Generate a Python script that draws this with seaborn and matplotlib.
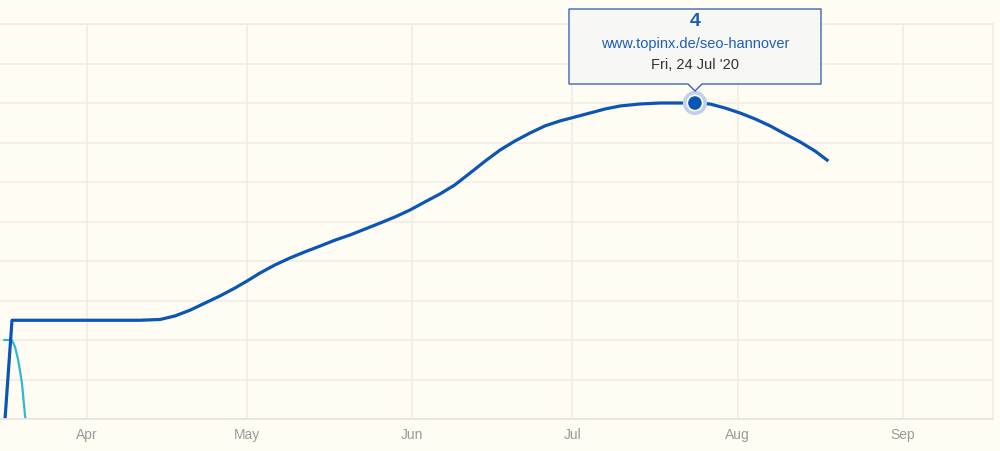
import matplotlib
matplotlib.use("Agg")
import matplotlib.pyplot as plt
import seaborn as sns
import pandas as pd
from matplotlib.patches import Polygon

# ---------------- data ----------------
BASE_DATE = "2020-04-01"
# days relative to BASE_DATE, ranking position (lower = better)
main_days = [-16.0, -13.96, 10.0, 13.8, 16.6, 19.4, 22.2, 25.0, 27.8, 30.1, 32.5,
             35.3, 38.1, 40.9, 43.8, 46.6, 49.4, 52.2, 55.0, 57.8, 60.6, 63.4,
             66.2, 69.0, 71.9, 74.7, 77.5, 80.3, 83.1, 85.9, 88.7, 91.5, 94.3,
             97.2, 100.0, 103.7, 107.5, 114.0, 116.8, 119.6, 122.5, 125.3, 128.1,
             130.9, 133.7, 136.5, 139.0]
main_rank = [22.8, 15.0, 15.0, 14.96, 14.78, 14.49, 14.13, 13.77, 13.37, 13.01, 12.61,
             12.20, 11.85, 11.54, 11.24, 10.94, 10.68, 10.38, 10.08, 9.77, 9.42, 9.01,
             8.61, 8.15, 7.54, 6.94, 6.38, 5.92, 5.52, 5.16, 4.91, 4.71, 4.51,
             4.30, 4.15, 4.05, 4.0, 4.0, 4.05, 4.25, 4.51, 4.81, 5.16,
             5.57, 5.97, 6.43, 6.94]
cyan_days = [-15.6, -14.0, -13.4, -12.8, -12.1, -11.5, -11.1]
cyan_rank = [16.0, 16.0, 16.34, 17.01, 18.18, 19.88, 20.9]

month_ticks = ["2020-04-01", "2020-05-01", "2020-06-01", "2020-07-01", "2020-08-01", "2020-09-01"]
month_labels = ["Apr", "May", "Jun", "Jul", "Aug", "Sep"]
rank_ticks = list(range(0, 21, 2))

tip_index = 37
tip_value = "4"
tip_url = "www.topinx.de/seo-hannover"
tip_date = "Fri, 24 Jul '20"

# ---------------- style ----------------
BG = "#fffcf3"
GRID = "#f0ece4"
DARK = "#0b55b4"
CYAN = "#2bbad0"

sns.set_theme(style="white")
plt.rcParams["font.family"] = ["Liberation Sans", "DejaVu Sans"]

base = pd.Timestamp(BASE_DATE)
df_main = pd.DataFrame({"date": base + pd.to_timedelta(main_days, unit="D"), "rank": main_rank})
df_cyan = pd.DataFrame({"date": base + pd.to_timedelta(cyan_days, unit="D"), "rank": cyan_rank})

W, H = 1000, 451
fig = plt.figure(figsize=(W / 100, H / 100), dpi=100, facecolor=BG)
ax = fig.add_axes([0, (H - 419) / H, 993 / W, (419 - 24) / H])
ax.set_facecolor(BG)

sns.lineplot(data=df_cyan, x="date", y="rank", color=CYAN, lw=1.6, ax=ax,
             estimator=None, sort=False)
sns.lineplot(data=df_main, x="date", y="rank", color=DARK, lw=2.3, ax=ax,
             estimator=None, sort=False)
for ln in ax.lines:
    ln.set_solid_joinstyle("round")
    ln.set_solid_capstyle("butt")

tip = df_main.iloc[[tip_index]]
sns.scatterplot(data=tip, x="date", y="rank", s=300, color="#bfd1ea", edgecolor="none",
                ax=ax, zorder=5, clip_on=False)
sns.scatterplot(data=tip, x="date", y="rank", s=150, color="white", edgecolor="none",
                ax=ax, zorder=6, clip_on=False)
sns.scatterplot(data=tip, x="date", y="rank", s=95, color=DARK, edgecolor="none",
                ax=ax, zorder=7, clip_on=False)

ax.set_ylim(20, 0)
ax.set_xlim(base - pd.Timedelta(days=16.21), base + pd.Timedelta(days=169.85))
ax.set_yticks(rank_ticks)
ax.set_yticklabels([])
ax.set_xticks(pd.to_datetime(month_ticks))
ax.set_xticklabels(month_labels)
ax.tick_params(axis="both", length=0)
ax.tick_params(axis="x", colors="#9a9a9a", labelsize=10, pad=6.5)
ax.set_xlabel("")
ax.set_ylabel("")
ax.grid(True, color=GRID, lw=1.1)
ax.set_axisbelow(True)
ax.spines["left"].set_visible(False)
for s in ["top", "right"]:
    ax.spines[s].set_color(GRID)
    ax.spines[s].set_linewidth(1.1)
ax.spines["bottom"].set_color("#e8e4dc")
ax.spines["bottom"].set_linewidth(1.2)

# ---------------- tooltip ----------------
def fp(x, y):
    return (x / W, 1 - y / H)

verts = [fp(569, 9), fp(821, 9), fp(821, 84), fp(702, 84), fp(695, 91),
         fp(688, 84), fp(569, 84)]
poly = Polygon(verts, closed=True, transform=fig.transFigure, facecolor="#f7f7f7",
               edgecolor="#2350a6", lw=0.9, alpha=0.97, zorder=10, joinstyle="round")
fig.add_artist(poly)
fig.text(*fp(695, 21), tip_value, ha="center", va="center", fontsize=14,
         fontweight="bold", color="#1a5cb2", zorder=11)
fig.text(*fp(695, 44), tip_url, ha="center", va="center", fontsize=10.5,
         color="#1f5fb6", zorder=11)
fig.text(*fp(695, 65), tip_date, ha="center", va="center", fontsize=10.5,
         color="#333333", zorder=11)

fig.savefig("out.png", dpi=100, facecolor=BG)
